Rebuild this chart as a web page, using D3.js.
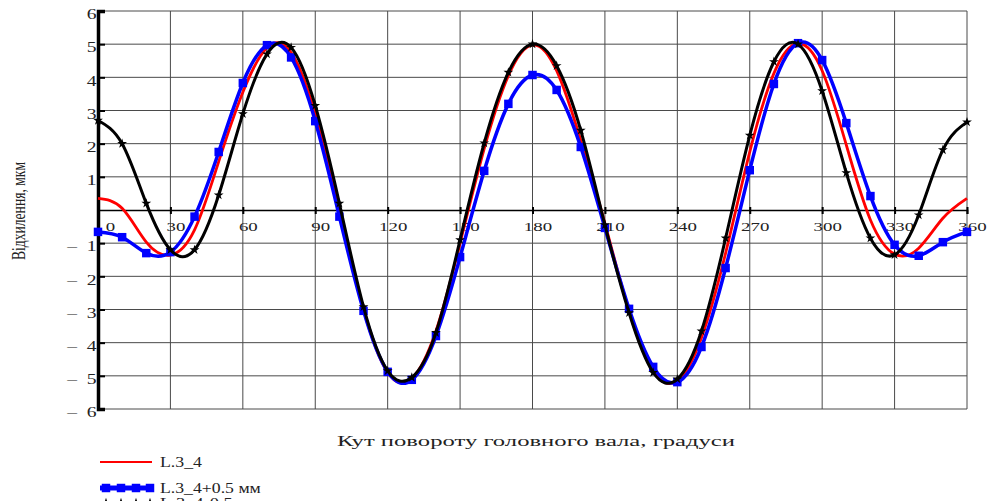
<!DOCTYPE html>
<html>
<head>
<meta charset="utf-8">
<script src="https://cdn.jsdelivr.net/npm/d3@7"></script>
<style>
  html, body { margin: 0; padding: 0; background: #fff; }
  svg { display: block; }
  text { font-family: "Liberation Serif", "Times New Roman", serif; fill: #222; }
</style>
</head>
<body>
<svg id="chart" width="995" height="501"></svg>
<script>
// Shaft rotation angle, degrees
const angles = [0, 10, 20, 30, 40, 50, 60, 70, 80, 90, 100, 110, 120, 130, 140, 150, 160, 170, 180,
                190, 200, 210, 220, 230, 240, 250, 260, 270, 280, 290, 300, 310, 320, 330, 340, 350, 360];

// Deviation, µm — nominal profile L.3_4
const devNominal = [0.35, 0.05, -0.97, -1.36, -0.6, 1.46, 3.55, 4.89, 4.75, 2.9, 0.0, -3.0, -4.9,
                    -5.08, -3.65, -1.0, 1.85, 4.05, 4.98, 4.2, 2.1, -0.4, -3.05, -4.85, -5.15, -3.85,
                    -1.3, 1.75, 4.12, 5.02, 4.2, 1.96, -0.3, -1.33, -1.15, -0.25, 0.35];

// Deviation, µm — profile L.3_4 + 0.5 mm
const devPlus = [-0.66, -0.82, -1.3, -1.27, -0.2, 1.75, 3.83, 4.97, 4.6, 2.68, -0.2, -3.04, -4.88,
                 -5.12, -3.8, -1.42, 1.18, 3.2, 4.07, 3.62, 1.9, -0.54, -2.98, -4.73, -5.19, -4.13,
                 -1.75, 1.2, 3.8, 5.03, 4.52, 2.62, 0.42, -1.05, -1.38, -0.97, -0.66];

// Deviation, µm — profile L.3_4 - 0.5 mm
const devMinus = [2.7, 2.0, 0.2, -1.2, -1.2, 0.45, 2.9, 4.7, 4.9, 3.15, 0.2, -2.92, -4.85,
                  -5.05, -3.7, -0.9, 2.02, 4.15, 5.0, 4.35, 2.4, -0.45, -3.1, -4.9, -5.1, -3.65,
                  -0.85, 2.25, 4.47, 5.0, 3.59, 1.12, -0.85, -1.35, -0.15, 1.81, 2.65];

const xTicks = [0, 30, 60, 90, 120, 150, 180, 210, 240, 270, 300, 330, 360];
const yTicks = [-6, -5, -4, -3, -2, -1, 0, 1, 2, 3, 4, 5, 6];

const seriesNames = ["L.3_4", "L.3_4+0.5 мм", "L.3_4-0.5 мм"];
const xTitle = "Кут повороту головного вала, градуси";
const yTitle = "Відхилення, мкм";

const svg = d3.select("#chart");
const W = 995, H = 501;
svg.append("rect").attr("width", W).attr("height", H).attr("fill", "#fff");

const x = d3.scaleLinear().domain([0, 360]).range([98, 967]);
const y = d3.scaleLinear().domain([-6, 6]).range([409, 11]);

// grid
const grid = svg.append("g").attr("stroke", "#4a4a4a").attr("stroke-width", 1);
grid.selectAll("line.v").data(xTicks.filter(d => d > 0)).join("line")
  .attr("x1", d => x(d)).attr("x2", d => x(d))
  .attr("y1", y(6)).attr("y2", y(-6));
grid.selectAll("line.h").data(yTicks.filter(d => d !== 0)).join("line")
  .attr("x1", x(0)).attr("x2", x(360))
  .attr("y1", d => y(d)).attr("y2", d => y(d));

// horizontal axis through zero
const xAxis = d3.axisBottom(x).tickValues(xTicks).tickSize(4).tickPadding(8)
  .tickFormat(d => String(d));
const gx = svg.append("g").attr("transform", `translate(0,${y(0)})`).call(xAxis);
gx.select(".domain").attr("stroke", "#000").attr("stroke-width", 1.6);
gx.selectAll(".tick line").attr("stroke", "#000").attr("stroke-width", 2).attr("y1", -3);
gx.selectAll(".tick text")
  .attr("font-size", 13).attr("fill", "#222")
  .attr("transform", d => `translate(${d === 0 ? 12 : 5},0) scale(1.45,1)`);

// vertical axis
const yAxis = d3.axisLeft(y).tickValues(yTicks.filter(d => d !== 0)).tickSize(-7).tickPadding(1)
  .tickFormat(d => d < 0 ? "\u2013\u2002" + (-d) : String(d));
const gy = svg.append("g").attr("transform", `translate(${x(0)},0)`).call(yAxis);
gy.select(".domain").attr("stroke", "#000").attr("stroke-width", 3.5);
gy.selectAll(".tick line").attr("stroke", "#000").attr("stroke-width", 2);
gy.selectAll(".tick text")
  .attr("font-size", 14).attr("fill", "#222").attr("dy", "0.55em")
  .attr("transform", "scale(1.4,1)");

// axis titles
svg.append("text")
  .attr("x", 337).attr("y", 446)
  .attr("font-size", 14)
  .attr("textLength", 398).attr("lengthAdjust", "spacingAndGlyphs")
  .text(xTitle);

svg.append("text")
  .attr("transform", `translate(25,260) rotate(-90)`)
  .attr("font-size", 18)
  .attr("textLength", 98).attr("lengthAdjust", "spacingAndGlyphs")
  .text(yTitle);

// curves
const line = d3.line().curve(d3.curveNatural).x(d => x(d[0])).y(d => y(d[1]));
const pts = vals => angles.map((a, i) => [a, vals[i]]);

const plot = svg.append("g");
plot.append("path").datum(pts(devNominal))
  .attr("fill", "none").attr("stroke", "#ff0000").attr("stroke-width", 2.8).attr("d", line);

plot.append("path").datum(pts(devPlus))
  .attr("fill", "none").attr("stroke", "#0000ff").attr("stroke-width", 3.5).attr("d", line);
const sq = d3.symbol().type(d3.symbolSquare).size(72);
plot.selectAll("path.bm").data(pts(devPlus)).join("path")
  .attr("fill", "#0000ff").attr("d", sq)
  .attr("transform", d => `translate(${x(d[0])},${y(d[1])})`);

plot.append("path").datum(pts(devMinus))
  .attr("fill", "none").attr("stroke", "#000").attr("stroke-width", 3).attr("d", line);
const star = d3.symbol().type(d3.symbolStar).size(30);
plot.selectAll("path.km").data(pts(devMinus)).join("path")
  .attr("fill", "#000").attr("d", star)
  .attr("transform", d => `translate(${x(d[0])},${y(d[1])})`);

// legend (the third row runs past the lower edge of the page)
const legend = svg.append("g");
const legendRows = [
  { name: seriesNames[0], color: "#ff0000", width: 2, mark: null, y: 462 },
  { name: seriesNames[1], color: "#0000ff", width: 5, mark: sq, y: 488 },
  { name: seriesNames[2], color: "#000", width: 3, mark: star, y: 503 }
];
legendRows.forEach(r => {
  legend.append("line").attr("x1", 100).attr("x2", 152).attr("y1", r.y).attr("y2", r.y)
    .attr("stroke", r.color).attr("stroke-width", r.width);
  if (r.mark) {
    [106, 121, 136, 150].forEach(mx => legend.append("path").attr("d", r.mark)
      .attr("fill", r.color).attr("transform", `translate(${mx},${r.y})`));
  }
  legend.append("text").attr("x", 160).attr("y", r.y + 4.5)
    .attr("font-size", 14)
    .attr("textLength", r.name.length * 8.4).attr("lengthAdjust", "spacingAndGlyphs")
    .text(r.name);
});
</script>
</body>
</html>
